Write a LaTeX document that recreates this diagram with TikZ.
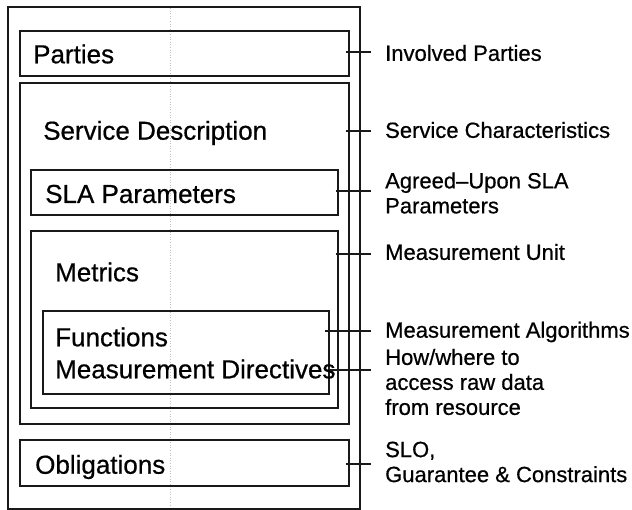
\documentclass[tikz,border=0pt]{standalone}
\usepackage{fontspec}
\setmainfont{Liberation Sans}
\newfontfamily\heavysans{Liberation Sans}[FakeBold=0.6]
\begin{document}
\begin{tikzpicture}[x=1pt,y=-1pt,
  frame/.style={draw=black!90, line width=1.6pt, rectangle, inner sep=0pt,
                anchor=north west},
  boxtext/.style={anchor=west, inner sep=0pt,
                  font=\heavysans\fontsize{26}{30}\selectfont},
  note/.style={anchor=west, inner sep=0pt, align=left,
               font=\heavysans\fontsize{22}{25}\selectfont},
  tick/.style={draw=black!90, line width=1.6pt}]
% canvas
\useasboundingbox (0,0) rectangle (632,510);
\fill[white] (0,0) rectangle (632,510);

% faint centre guide
\draw[black!25, line width=0.6pt, dotted] (170,8) -- (170,506);

% nested boxes
\node[frame, minimum width=352pt, minimum height=502pt] (outer) at (7,6) {};
\node[frame, minimum width=329pt, minimum height=45pt]  (parties) at (19,30) {};
\node[frame, minimum width=329pt, minimum height=341pt] (sd) at (19,82) {};
\node[frame, minimum width=307pt, minimum height=45pt]  (sla) at (30,169) {};
\node[frame, minimum width=307pt, minimum height=177pt] (metrics) at (30,230) {};
\node[frame, minimum width=286pt, minimum height=83pt]  (func) at (42,310) {};
\node[frame, minimum width=329pt, minimum height=46pt]  (oblig) at (19,439) {};

% box captions
\node[boxtext] (tParties) at (33,54) {Parties};
\node[boxtext] (tSd) at (43,133) {Service Description};
\node[boxtext] (tSla) at (45,194) {SLA Parameters};
\node[boxtext] (tMetrics) at (55,272) {Metrics};
\node[boxtext] (tFunc) at (55,337) {Functions};
\node[boxtext] (tDir) at (55,369) {Measurement Directives};
\node[boxtext] (tOblig) at (35,467) {Obligations};

% tick ends
\coordinate (eParties) at (371,52);
\coordinate (eSd) at (371,131);
\coordinate (eSla) at (371,191);
\coordinate (eMetrics) at (371,254);
\coordinate (eFunc) at (371,331);
\coordinate (eDir) at (371,370);
\coordinate (eOblig) at (371,464);

% ticks
\draw[tick] ([xshift=-4pt]parties.east |- eParties) -- (eParties);
\draw[tick] ([xshift=-4pt]sd.east |- eSd) -- (eSd);
\draw[tick] ([xshift=-3pt]sla.east |- eSla) -- (eSla);
\draw[tick] ([xshift=-3pt]metrics.east |- eMetrics) -- (eMetrics);
\draw[tick] ([xshift=-5pt]func.east |- eFunc) -- (eFunc);
\draw[tick] (func.east |- eDir) -- (eDir);
\draw[tick] ([xshift=-4pt]oblig.east |- eOblig) -- (eOblig);

% side notes
\node[note] (nParties) at (385,53) {Involved Parties};
\node[note] (nSd) at (385,130) {Service Characteristics};
\node[note] (nSla) at (385,193) {Agreed–Upon SLA\\Parameters};
\node[note] (nMetrics) at (385,252) {Measurement Unit};
\node[note] (nFunc) at (385,332) {Measurement Algorithms};
\node[note] (nDir) at (385,382) {How/where to\\access raw data\\from resource};
\node[note] (nOblig) at (385,462) {SLO,\\Guarantee \& Constraints};
\end{tikzpicture}
\end{document}
